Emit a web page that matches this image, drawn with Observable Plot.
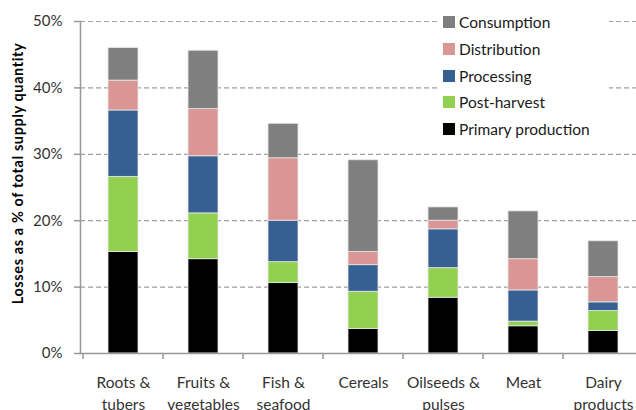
<!DOCTYPE html>
<html><head><meta charset="utf-8">
<script src="https://cdn.jsdelivr.net/npm/d3@7"></script>
<script src="https://cdn.jsdelivr.net/npm/@observablehq/plot@0.6"></script>
<style>
body{margin:0;background:#fff;}
#wrap{position:relative;width:636px;height:410px;overflow:hidden;font-family:Lato,"Open Sans",sans-serif;}
#legend{position:absolute;left:437px;top:8px;width:172px;height:133px;background:#fff;}
.item{position:absolute;left:6px;height:20px;display:flex;align-items:center;font-size:15.5px;color:#1a1a1a;white-space:nowrap;}
.sw{width:12px;height:12px;margin-right:4px;}
</style></head><body><div id="wrap"></div>
<script>
const categories = ["Roots &\ntubers","Fruits &\nvegetables","Fish &\nseafood","Cereals","Oilseeds &\npulses","Meat","Dairy\nproducts"];
const stages = ["Primary production","Post-harvest","Processing","Distribution","Consumption"];
const primary = [15.3,14.2,10.6,3.7,8.4,4.1,3.4];
const postHarvest = [11.3,6.9,3.15,5.6,4.45,0.7,3.0];
const processing = [10.0,8.6,6.25,4.0,5.85,4.7,1.3];
const distribution = [4.5,7.1,9.4,2.0,1.3,4.7,3.8];
const consumption = [4.9,8.8,5.2,13.8,2.0,7.2,5.4];
const colors = ["#000000","#92d050","#376092","#d99694","#7f7f7f"];
const yTicks = [0,10,20,30,40,50];
const yTitle = "Losses as a % of total supply quantity";

const series = [primary, postHarvest, processing, distribution, consumption];
const data = [];
stages.forEach((s, i) => categories.forEach((c, j) => data.push({category: c, stage: s, value: series[i][j]})));

const xRange = [80, 646];
const bw = (xRange[1] - xRange[0]) / categories.length;

const chart = Plot.plot({
  width: 636, height: 410,
  marginLeft: 80, marginRight: 0, marginTop: 21, marginBottom: 57,
  style: {fontFamily: "Lato, 'Open Sans', sans-serif", background: "#fff"},
  x: {domain: categories, range: xRange, padding: 0},
  y: {domain: [0, 50]},
  color: {domain: stages, range: colors},
  marks: [
    Plot.gridY(yTicks.slice(1), {stroke: "#a0a0a0", strokeOpacity: 1, strokeDasharray: "5,3", strokeWidth: 1.2}),
    Plot.barY(data, {x: "category", y: "value", fill: "stage", order: stages, insetLeft: 25, insetRight: 25, stroke: "#e8e8e8", strokeWidth: 0.8}),
    Plot.ruleY([0], {stroke: "#999", strokeWidth: 1.5}),
    Plot.axisY(yTicks, {tickSize: 6, tickPadding: 12, tickFormat: d => d + "%", fontSize: 15, fill: "#333", stroke: "#999", strokeWidth: 1.5, label: null}),
    Plot.axisX({tickSize: 6, tickFormat: () => "", dx: -bw / 2, stroke: "#999", strokeWidth: 1.5, label: null}),
    Plot.axisX({tickSize: 0, tickPadding: 19, fontSize: 15.5, lineHeight: 1.42, fill: "#333", label: null}),
    Plot.frame({anchor: "left", stroke: "#999", strokeWidth: 1.5}),
    Plot.text([yTitle], {frameAnchor: "left", textAnchor: "middle", lineAnchor: "middle", rotate: -90, dx: -62, dy: -14, fontSize: 14.5, fontWeight: "bold", fill: "#000"})
  ]
});
d3.select(chart).selectAll("text").filter(function() { return this.textContent === yTitle; }).style("letter-spacing", "0.6px");
const wrap = document.getElementById("wrap");
wrap.appendChild(chart);

const legend = document.createElement("div");
legend.id = "legend";
const legendOrder = stages.slice().reverse();
legendOrder.forEach((s, i) => {
  const it = document.createElement("div");
  it.className = "item";
  it.style.top = (4 + i * 26.8) + "px";
  const sw = document.createElement("span");
  sw.className = "sw";
  sw.style.background = colors[stages.indexOf(s)];
  it.appendChild(sw);
  it.appendChild(document.createTextNode(s));
  legend.appendChild(it);
});
wrap.appendChild(legend);
</script>
</body></html>
